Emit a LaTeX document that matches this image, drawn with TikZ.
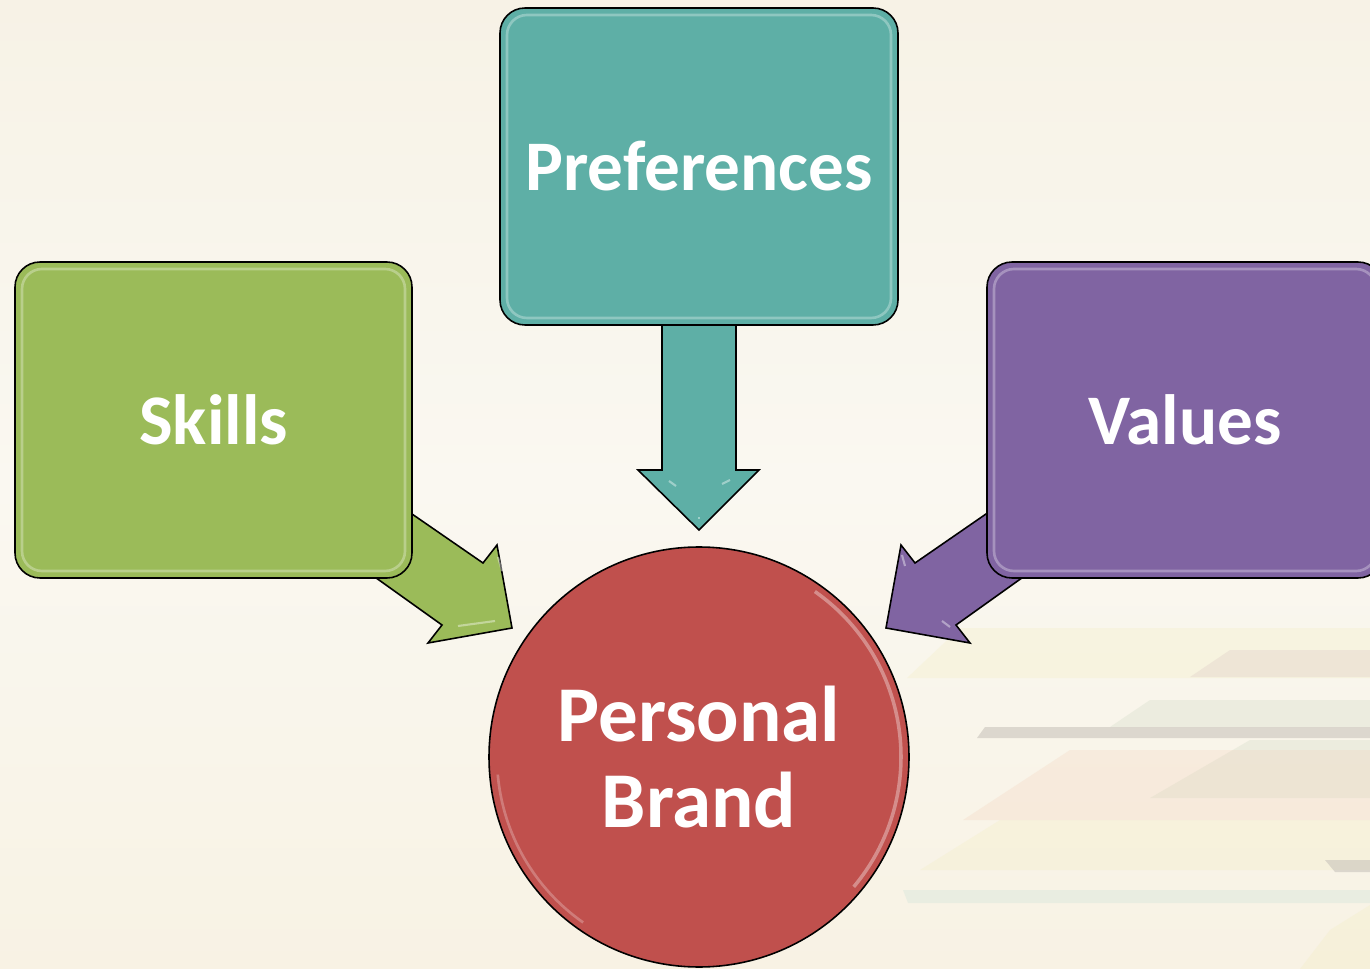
\documentclass[tikz,border=0pt]{standalone}
\usepackage{fontspec}
\setmainfont{Carlito}
\begin{document}
\begin{tikzpicture}[x=0.02cm,y=-0.02cm,
  boxstyle/.style={draw=black,line width=0.9pt,rounded corners=0.5cm,inner sep=0pt},
  labelstyle/.style={text=white,font=\bfseries\fontsize{40.5}{48}\selectfont,inner sep=0pt},
  arrowstyle/.style={draw=black,line width=0.9pt,line join=miter},
  glossline/.style={draw=white,line width=1.5pt,opacity=0.3,rounded corners=0.4cm},
  stripe/.style={draw=none,opacity=0.28}]
\definecolor{bgtop}{HTML}{F7F2E6}
\definecolor{bgmid}{HTML}{FAF8F1}
\definecolor{bgbot}{HTML}{F8F2E4}
\definecolor{cgreen}{HTML}{9BBB59}
\definecolor{cteal}{HTML}{5EAFA6}
\definecolor{cpurple}{HTML}{8064A2}
\definecolor{cred}{HTML}{C0504D}
\definecolor{sy}{HTML}{F2EDC0}
\definecolor{sm}{HTML}{D9C3C0}
\definecolor{sg}{HTML}{CBD8C0}
\definecolor{sp}{HTML}{F3D2BC}
\definecolor{sgray}{HTML}{C9C4BC}
\definecolor{sc}{HTML}{C3E0D6}
\useasboundingbox (0,0) rectangle (1370,969);
\clip (0,0) rectangle (1370,969);
% background
\shade[top color=bgtop,bottom color=bgbot,middle color=bgmid] (0,0) rectangle (1370,969);
% faint stripes
\fill[stripe,sy] (960,628) -- (1370,628) -- (1370,678) -- (907,678) -- cycle;
\fill[stripe,sm] (1230,650) -- (1370,650) -- (1370,677) -- (1190,677) -- cycle;
\fill[stripe,sg] (1150,700) -- (1370,700) -- (1370,727) -- (1110,727) -- cycle;
\fill[stripe,sg] (1250,740) -- (1370,740) -- (1370,798) -- (1150,798) -- cycle;
\fill[stripe,sp] (1070,750) -- (1370,750) -- (1370,820) -- (963,820) -- cycle;
\fill[stripe,sy] (1000,820) -- (1370,820) -- (1370,870) -- (920,870) -- cycle;
\fill[stripe,sgray,opacity=0.6] (977,738) -- (985,727) -- (1370,727) -- (1370,738) -- cycle;
\fill[stripe,sgray,opacity=0.6] (1325,860) -- (1370,860) -- (1370,872) -- (1335,872) -- cycle;
\fill[stripe,sc] (903,890) -- (1370,890) -- (1370,903) -- (908,903) -- cycle;
\fill[stripe,sy] (1330,930) -- (1370,905) -- (1370,969) -- (1300,969) -- cycle;
% arrow outline points
\coordinate (ga1) at (370,485); \coordinate (ga2) at (483,563); \coordinate (ga3) at (497,545);
\coordinate (ga4) at (512,628); \coordinate (ga5) at (428,643); \coordinate (ga6) at (442,625);
\coordinate (ga7) at (330,545);
\coordinate (ta1) at (662,300); \coordinate (ta2) at (662,470); \coordinate (ta3) at (638,470);
\coordinate (ta4) at (699,530); \coordinate (ta5) at (759,470); \coordinate (ta6) at (736,470);
\coordinate (ta7) at (736,300);
\coordinate (pa1) at (1028,485); \coordinate (pa2) at (915,563); \coordinate (pa3) at (901,545);
\coordinate (pa4) at (886,628); \coordinate (pa5) at (970,643); \coordinate (pa6) at (956,625);
\coordinate (pa7) at (1068,545);
% block arrows (drawn beneath the boxes)
\path[arrowstyle,fill=cgreen] (ga1) -- (ga2) -- (ga3) -- (ga4) -- (ga5) -- (ga6) -- (ga7) -- cycle;
\path[arrowstyle,fill=cteal] (ta1) -- (ta2) -- (ta3) -- (ta4) -- (ta5) -- (ta6) -- (ta7) -- cycle;
\path[arrowstyle,fill=cpurple] (pa1) -- (pa2) -- (pa3) -- (pa4) -- (pa5) -- (pa6) -- (pa7) -- cycle;
% arrow gloss
\draw[white,opacity=0.4,line width=1.2pt] (498,557) -- (502,571);
\draw[white,opacity=0.4,line width=1.2pt] (458,626) -- (495,621);
\draw[white,opacity=0.4,line width=1.2pt] (669,481) -- (676,486);
\draw[white,opacity=0.4,line width=1.2pt] (698,518) -- (700,518);
\draw[white,opacity=0.4,line width=1.2pt] (730,480) -- (722,484);
\draw[white,opacity=0.4,line width=1.2pt] (902,555) -- (905,566);
\draw[white,opacity=0.4,line width=1.2pt] (942,621) -- (950,627);
% boxes
\node[boxstyle,fill=cgreen,minimum width=397*0.02cm,minimum height=316*0.02cm] (skills) at (213.5,420) {};
\node[boxstyle,fill=cteal,minimum width=398*0.02cm,minimum height=317*0.02cm] (pref) at (699,166.5) {};
\node[boxstyle,fill=cpurple,minimum width=396*0.02cm,minimum height=316*0.02cm] (values) at (1185,420) {};
\draw[glossline] (22,269) rectangle (405,571);
\draw[glossline] (507,15) rectangle (891,318);
\draw[glossline] (994,269) rectangle (1376,571);
% circle
\node[circle,draw=black,line width=0.9pt,fill=cred,minimum size=420*0.02cm,inner sep=0pt] (brand) at (699,757) {};
\draw[white,opacity=0.35,line width=2pt] (brand.center) ++(-55:202) arc[start angle=-55,end angle=40,radius=202];
\draw[white,opacity=0.25,line width=1.5pt] (brand.center) ++(125:202) arc[start angle=125,end angle=175,radius=202];
% labels
\node[labelstyle] (tskills) at (skills.center) {Skills};
\node[labelstyle] (tpref) at (pref.center) {Preferences};
\node[labelstyle] (tvalues) at (values.center) {Values};
\node[labelstyle,font=\bfseries\fontsize{45}{48.8}\selectfont,align=center] (tbrand) at (brand.center) {Personal\\Brand};
\end{tikzpicture}
\end{document}
